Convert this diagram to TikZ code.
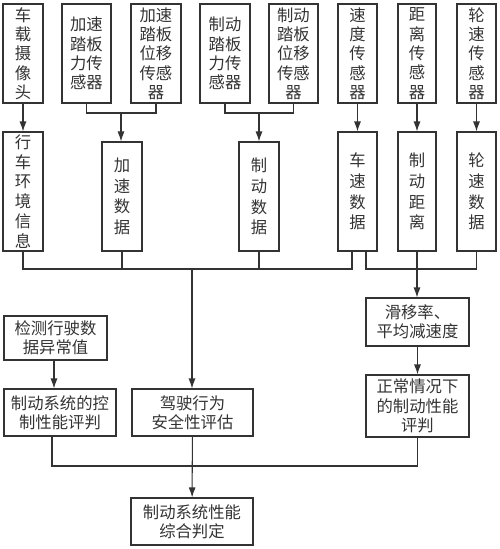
\documentclass[tikz,border=0pt]{standalone}
\usepackage{fontspec}
\newfontfamily\cjk{Noto Sans CJK SC}
\usetikzlibrary{arrows.meta}

\begin{document}
\begin{tikzpicture}[x=0.02cm, y=-0.02cm, color=black!80, line width=0.6pt,
  box/.style={draw, inner sep=0pt, align=center, font=\cjk\fontsize{9.3}{11}\selectfont},
  databox/.style={box, font=\cjk\fontsize{9.3}{11.8}\selectfont},
  arr/.style={-{Latex[length=2mm,width=1.4mm]}}]
  \useasboundingbox (0,0) rectangle (500,549);

  % 传感器（上排）
  \node[box, minimum width=0.8cm, minimum height=1.98cm] (cam) at (23,53.5) {车\\载\\摄\\像\\头};
  \node[box, minimum width=0.98cm, minimum height=1.98cm] (accF) at (86.5,53.5) {加速\\踏板\\力传\\感器};
  \node[box, minimum width=1.0cm, minimum height=1.98cm] (accD) at (156,53.5) {加速\\踏板\\位移\\传感\\器};
  \node[box, minimum width=1.0cm, minimum height=1.98cm] (brkF) at (225,53.5) {制动\\踏板\\力传\\感器};
  \node[box, minimum width=0.98cm, minimum height=1.98cm] (brkD) at (293.5,53.5) {制动\\踏板\\位移\\传感\\器};
  \node[box, minimum width=0.78cm, minimum height=1.98cm] (spdS) at (357.5,53.5) {速\\度\\传\\感\\器};
  \node[box, minimum width=0.76cm, minimum height=1.98cm] (disS) at (417,53.5) {距\\离\\传\\感\\器};
  \node[box, minimum width=0.78cm, minimum height=1.98cm] (whlS) at (476.5,53.5) {轮\\速\\传\\感\\器};

  % 数据（第二排）
  \node[box, font=\cjk\fontsize{9.3}{11.3}\selectfont, minimum width=0.8cm, minimum height=2.38cm] (env) at (23,191.5) {行\\车\\环\\境\\信\\息};
  \node[databox, minimum width=0.8cm, minimum height=2.18cm] (accData) at (122,196.5) {加\\速\\数\\据};
  \node[databox, minimum width=0.8cm, minimum height=2.18cm] (brkData) at (259,196.5) {制\\动\\数\\据};
  \node[databox, minimum width=0.78cm, minimum height=2.38cm] (spdData) at (357.5,191.5) {车\\速\\数\\据};
  \node[databox, minimum width=0.76cm, minimum height=2.38cm] (disData) at (417,191.5) {制\\动\\距\\离};
  \node[databox, minimum width=0.78cm, minimum height=2.38cm] (whlData) at (476.5,191.5) {轮\\速\\数\\据};

  % 评判（下部）
  \node[box, minimum width=2.06cm, minimum height=0.96cm] (slip) at (417.5,322) {滑移率、\\平均减速度};
  \node[box, minimum width=2.06cm, minimum height=1.24cm] (normal) at (417.5,406) {正常情况下\\的制动性能\\评判};
  \node[box, minimum width=2.06cm, minimum height=0.88cm] (detect) at (55.5,338) {检测行驶数\\据异常值};
  \node[box, minimum width=2.24cm, minimum height=0.94cm] (ctrl) at (60,412.5) {制动系统的控\\制性能评判};
  \node[box, minimum width=2.42cm, minimum height=0.94cm] (safety) at (192.5,412.5) {驾驶行为\\安全性评估};
  \node[box, minimum width=2.44cm, minimum height=0.94cm] (final) at (192,521.5) {制动系统性能\\综合判定};

  \coordinate (accJ) at (121,113);
  \coordinate (brkJ) at (259,113);
  \coordinate (busL) at (192,269);
  \coordinate (busR) at (417,269);
  \coordinate (busB) at (192,466);

  % 连线
  \draw[arr] (cam) -- (env);
  \draw (accF.south) |- (accJ) -| (accD.south);
  \draw[arr] (accJ) -- (accJ |- accData.north);
  \draw (brkF.south) |- (brkJ) -| (brkD.south);
  \draw[arr] (brkJ) -- (brkData);
  \draw[arr] (spdS) -- (spdData);
  \draw[arr] (disS) -- (disData);
  \draw[arr] (whlS) -- (whlData);

  \draw (env.south) |- (busL) -| ([xshift=-0.11cm]spdData.south);
  \draw (accData.south) -- (accData.south |- busL);
  \draw (brkData.south) -- (brkData.south |- busL);
  \draw[arr] (busL) -- (busL |- safety.north);
  \draw ([xshift=0.17cm]spdData.south) |- (busR) -| (whlData.south);
  \draw (disData.south) -- (busR);
  \draw[arr] (busR) -- (busR |- slip.north);
  \draw[arr] (slip) -- (normal);

  \draw[arr] ([xshift=-0.03cm]detect.south) -- ([xshift=-0.03cm]detect.south |- ctrl.north);
  \draw ([xshift=-0.16cm]ctrl.south) |- (busB) -| (normal.south);
  \draw[arr] (safety) -- (final);
\end{tikzpicture}
\end{document}
